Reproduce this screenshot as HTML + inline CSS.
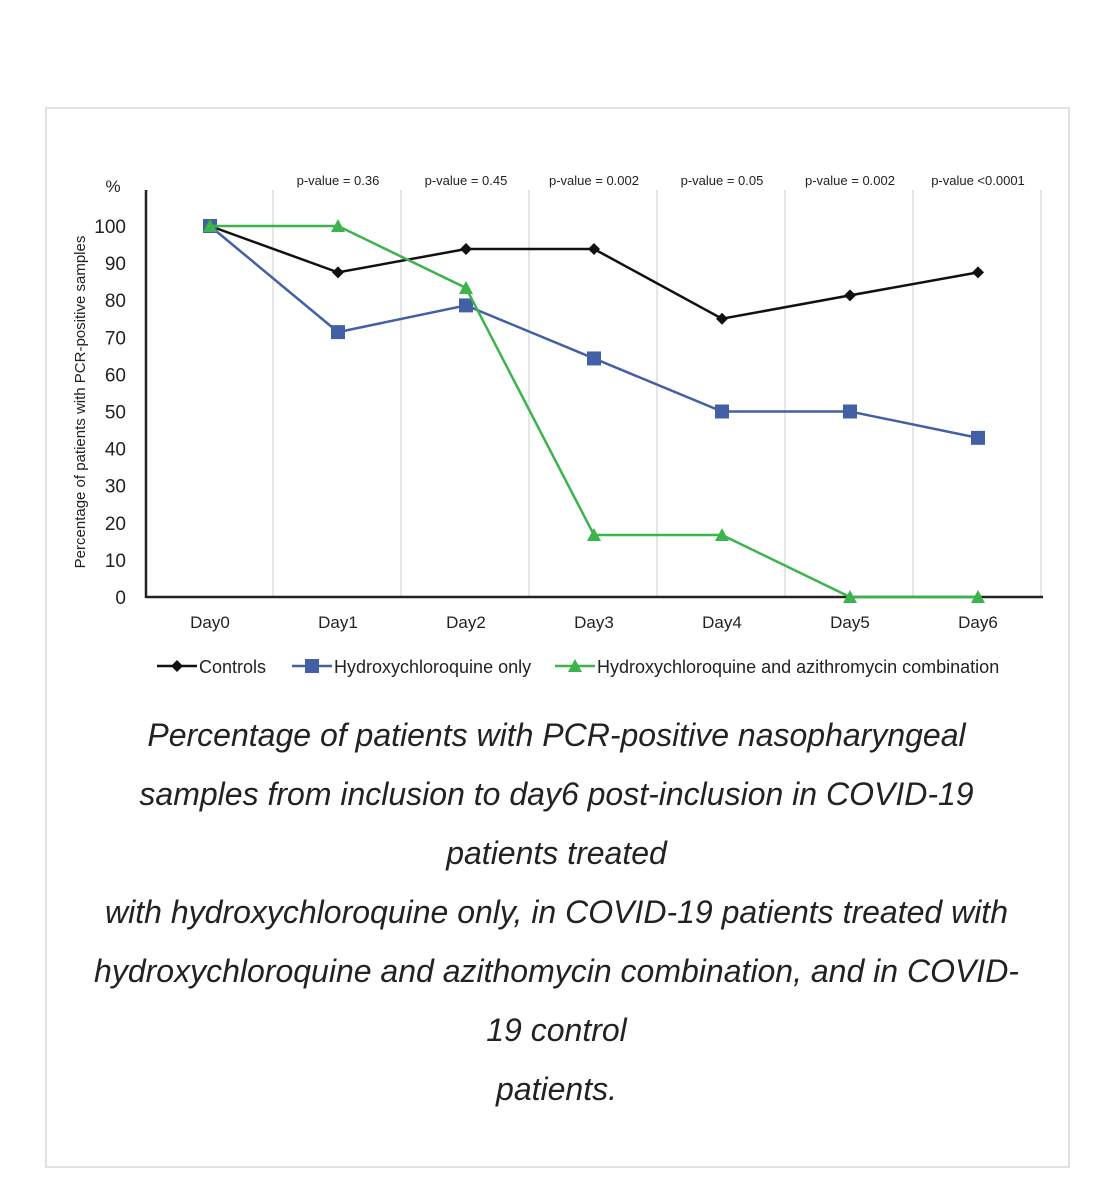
<!DOCTYPE html>
<html><head><meta charset="utf-8"><style>
body{margin:0;background:#fff;width:1113px;height:1200px;position:relative;overflow:hidden;font-family:"Liberation Sans",sans-serif}
#frame{position:absolute;left:45px;top:107px;width:1021px;height:1057px;border:2px solid #e2e2e2}
#cap{position:absolute;left:20px;width:1073px;top:706px;text-align:center;font-style:italic;font-size:32px;line-height:59px;color:#222}
</style></head><body>
<div id="frame"></div>
<svg id="chart" width="1113" height="700" style="position:absolute;left:0;top:0"></svg>
<div id="cap">Percentage of patients with PCR-positive nasopharyngeal<br>samples from inclusion to day6 post-inclusion in COVID-19<br>patients treated<br>with hydroxychloroquine only, in COVID-19 patients treated with<br>hydroxychloroquine and azithomycin combination, and in COVID-<br>19 control<br>patients.</div>
<script>
const categories=["Day0","Day1","Day2","Day3","Day4","Day5","Day6"];
const pvalues=["","p-value = 0.36","p-value = 0.45","p-value = 0.002","p-value = 0.05","p-value = 0.002","p-value <0.0001"];
const controls=[100,87.5,93.8,93.8,75,81.3,87.5];
const hcqOnly=[100,71.4,78.6,64.3,50,50,42.9];
const combo=[100,100,83.3,16.7,16.7,0,0];
const yTicks=[0,10,20,30,40,50,60,70,80,90,100];
const svg=document.getElementById('chart');const NS='http://www.w3.org/2000/svg';
const x0=146,step=128,yb=597,yt=226;
const X=i=>x0+64+i*step;const Y=v=>yb-(v/100)*(yb-yt);
function mk(t,a,txt){const e=document.createElementNS(NS,t);for(const k in a)e.setAttribute(k,a[k]);if(txt!==undefined)e.textContent=txt;svg.appendChild(e);return e;}
categories.forEach((c,i)=>{
 const g=mk('line',{x1:x0+(i+1)*step-1,x2:x0+(i+1)*step-1,y1:190,y2:yb,stroke:'#ddd','stroke-width':1.5});
 
 const t=mk('text',{x:X(i),y:628,'text-anchor':'middle','font-size':17,fill:'#222'},c);
 
 if(pvalues[i]){const p=mk('text',{x:X(i),y:185,'text-anchor':'middle','font-size':13,fill:'#222'},pvalues[i]);
 }
});
yTicks.forEach(v=>{const t=mk('text',{x:126,y:Y(v)+7,'text-anchor':'end','font-size':19,fill:'#222'},v);
 });
let e=mk('text',{x:113,y:192,'text-anchor':'middle','font-size':17,fill:'#222'},'%');

e=mk('text',{transform:'translate(85,402) rotate(-90)','text-anchor':'middle','font-size':15,fill:'#222'},'Percentage of patients with PCR-positive samples');

e=mk('line',{x1:x0,x2:x0,y1:190,y2:yb+1,stroke:'#222','stroke-width':2.5});

e=mk('line',{x1:x0,x2:1043,y1:yb,y2:yb,stroke:'#222','stroke-width':2.5});

function marker(type,cx,cy,col){
 if(type==='d')return mk('polygon',{points:`${cx},${cy-6} ${cx+6},${cy} ${cx},${cy+6} ${cx-6},${cy}`,fill:col});
 if(type==='s')return mk('rect',{x:cx-7,y:cy-7,width:14,height:14,fill:col});
 return mk('polygon',{points:`${cx},${cy-7} ${cx+7},${cy+6} ${cx-7},${cy+6}`,fill:col});
}
function series(vals,col,type,name){
 const l=mk('polyline',{points:vals.map((v,i)=>X(i)+','+Y(v)).join(' '),fill:'none',stroke:col,'stroke-width':2.5});
 
 vals.forEach((v,i)=>{const m=marker(type,X(i),Y(v),col);
 });
}
series(controls,'#111','d','controls');
series(hcqOnly,'#4360a6','s','hcq-only');
series(combo,'#3cb44b','t','combination');
function leg(x,col,type,label){
 const l=mk('line',{x1:x,x2:x+40,y1:666,y2:666,stroke:col,'stroke-width':2.5});
 
 const m=marker(type,x+20,666,col);
 const t=mk('text',{x:x+42,y:673,'font-size':18,fill:'#222'},label);
 
}
leg(157,'#111','d','Controls');
leg(292,'#4360a6','s','Hydroxychloroquine only');
leg(555,'#3cb44b','t','Hydroxychloroquine and azithromycin combination');
</script>
</body></html>
